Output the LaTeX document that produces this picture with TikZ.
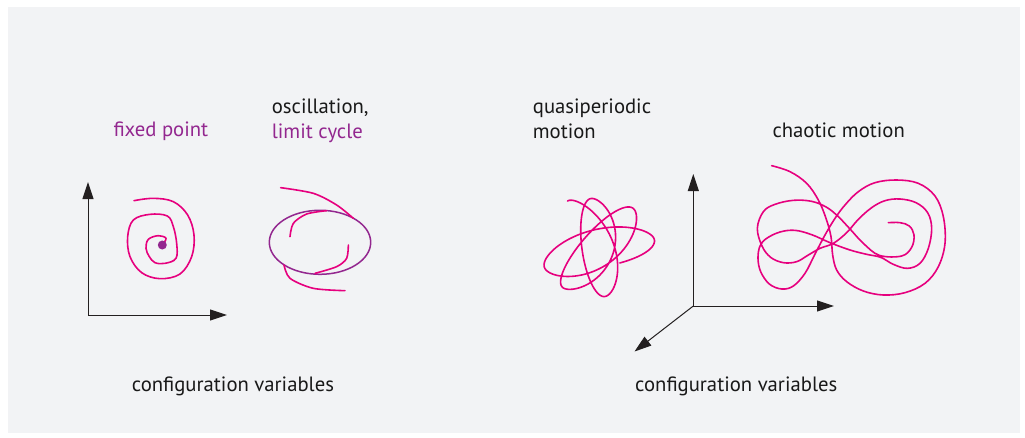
\documentclass[tikz,border=0pt]{standalone}
\usepackage{fontspec}
\setmainfont{PT Sans}
\usetikzlibrary{arrows.meta}
\definecolor{bggray}{HTML}{F2F3F5}
\definecolor{traj}{HTML}{E6007E}
\definecolor{lcpurple}{HTML}{93278F}
\definecolor{axiscol}{HTML}{231F20}
\tikzset{
  axis/.style={draw=axiscol, line width=1pt, -{Triangle[length=17pt,width=11pt]}},
  curve/.style={draw=traj, line width=1.6pt, line cap=round, line join=round},
  lbl/.style={inner sep=0pt, anchor=base west, font=\fontsize{20.7}{25}\selectfont, text=black!90},
}
\begin{document}
\begin{tikzpicture}[x=1pt, y=-1pt,
  declare function={
    ez(\u,\s)=(1-cos(\u-\s))/2;
    qth(\u)=(\u<180)*(123-25*ez(\u,0)) + and(\u>=180,\u<360)*98
      + and(\u>=360,\u<540)*(98-50*ez(\u,360)) + and(\u>=540,\u<720)*48
      + and(\u>=720,\u<900)*(48-28*ez(\u,720)) + and(\u>=900,\u<1080)*(20-12*ez(\u,900))
      + (\u>=1080)*8;
    qa(\u)=(\u<180)*(56-7*ez(\u,0)) + and(\u>=180,\u<360)*(49+1*ez(\u,180))
      + and(\u>=360,\u<540)*(50+3*ez(\u,360)) + and(\u>=540,\u<720)*53
      + and(\u>=720,\u<900)*(53+4*ez(\u,720)) + and(\u>=900,\u<1080)*57
      + (\u>=1080)*57;
    qb(\u)=(\u<540)*16 + and(\u>=540,\u<1080)*(16+3*ez(\u/2,270)) + (\u>=1080)*19;
  }]
\useasboundingbox (0,0) rectangle (1025,437);
\fill[white] (0,0) rectangle (1025,437);
\fill[bggray] (8,7) rectangle (1020,433);

% labels
\node[lbl, text=lcpurple] (fp) at (113.3,136) {fixed point};
\node[lbl] (osc) at (271.7,113.3) {oscillation,};
\node[lbl, text=lcpurple] (lc) at (271.7,138.3) {limit cycle};
\node[lbl] (qp1) at (532.7,113.3) {quasiperiodic};
\node[lbl] (qp2) at (532.7,138.3) {motion};
\node[lbl] (ch) at (772.3,137.3) {chaotic motion};
\node[lbl] (cv1) at (131.7,391.7) {configuration variables};
\node[lbl] (cv2) at (635,391.7) {configuration variables};

% left axes
\coordinate (o1) at (88,315);
\coordinate (y1) at (88,182);
\coordinate (x1) at (227,315);
\draw[axis] (o1) -- (y1);
\draw[axis] (o1) -- (x1);

% right axes
\coordinate (o2) at (693.3,306);
\coordinate (y2) at (693.3,174);
\coordinate (x2) at (834,306);
\coordinate (z2) at (634.5,351.5);
\draw[axis] (o2) -- (y2);
\draw[axis] (o2) -- (x2);
\draw[axis] (o2) -- (z2);

% fixed point spiral
\begin{scope}[shift={(60,90)}, x=1/3*1pt, y=-1/3*1pt]
\draw[curve] plot[smooth, tension=0.6] coordinates {
(308,463) (318,445) (295,437) (265,448) (258,475) (268,500) (285,518)
(315,520) (348,505) (350,460) (340,410) (322,378) (270,373) (220,390)
(203,440) (210,500) (245,548) (300,566) (360,552) (395,500) (402,435)
(383,375) (340,335) (280,325) (222,332)};
\end{scope}
\fill[lcpurple] (162.3,245) circle[radius=4.5pt];

% limit cycle
\draw[draw=lcpurple, line width=1.5pt] (320,242.3) ellipse [x radius=50.7pt, y radius=32pt];
\begin{scope}[shift={(60,90)}, x=1/3*1pt, y=-1/3*1pt]
\draw[curve] plot[smooth] coordinates {(662,293) (760,310) (830,345) (880,385)};
\draw[curve] plot[smooth] coordinates {(690,440) (700,400) (740,372) (800,362)};
\draw[curve] plot[smooth] coordinates {(865,465) (860,505) (830,530) (765,550)};
\draw[curve] plot[smooth] coordinates {(672,525) (690,565) (760,595) (855,602)};
\end{scope}

% quasiperiodic motion
\draw[curve] plot[domain=0:1150, samples=300, smooth, variable=\t]
 ({598 + qa(\t)*cos(\t)*cos(qth(\t)) + qb(\t)*sin(\t)*sin(qth(\t))},
  {248 - (qa(\t)*cos(\t)*sin(qth(\t)) - qb(\t)*sin(\t)*cos(qth(\t)))});

% chaotic motion
\begin{scope}[shift={(750,160)}, x=1/3*1pt, y=-1/3*1pt]
\draw[curve] plot[smooth, tension=0.6] coordinates {
(65,17) (120,35) (170,70) (205,120) (228,175) (243,230) (248,285) (260,330)
(290,365) (340,393) (400,405) (465,398) (525,370) (565,320) (585,250)
(580,170) (555,108) (505,70) (440,60) (375,68) (325,95) (285,135) (255,175)
(225,225) (195,282) (165,340) (130,378) (95,387) (58,372) (32,335) (24,295)
(30,258) (50,235) (90,216) (135,211) (185,224) (240,248) (300,270) (350,283)
(392,292) (430,313) (472,325) (510,310) (535,265) (545,205) (533,158)
(498,128) (450,117) (405,122) (365,143) (325,178) (290,218) (250,250)
(210,265) (175,285) (140,305) (100,308) (62,292) (36,258) (22,205) (40,155)
(75,133) (130,121) (185,124) (230,142) (265,170) (300,207) (340,250)
(388,286) (455,288) (485,262) (492,225) (478,198) (450,188) (415,188)};
\end{scope}
\end{tikzpicture}
\end{document}
